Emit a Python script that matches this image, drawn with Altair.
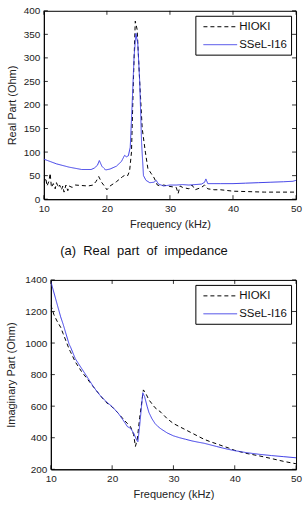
import altair as alt
import pandas as pd

# ---- Real part data (kHz, Ohm) ----
real_hioki_f = [10, 10.3, 10.5, 10.8, 11, 11.2, 11.5, 11.8, 12, 12.3, 12.5, 12.8, 13, 13.2, 13.5, 13.8, 14, 14.5, 15, 16, 17,
                17.8, 18.3, 18.7, 19.2, 19.6, 20, 20.5, 21.5, 22.5, 23, 23.3, 23.6, 23.9, 24.2, 24.5, 24.8, 25.2, 25.6, 25.8,
                26.1, 26.5, 27, 27.5, 28, 28.5, 29, 30, 31, 31.3, 31.6, 32, 33, 33.5, 34, 35, 35.5, 36, 37, 38, 40, 45, 50]
real_hioki_v = [35, 45, 28, 38, 55, 25, 33, 22, 35, 25, 30, 20, 28, 15, 30, 18, 28, 25, 30, 29, 28,
                30, 38, 48, 35, 28, 20, 28, 37, 48, 52, 50, 60, 100, 250, 378, 360, 250, 150, 130,
                100, 65, 55, 45, 30, 28, 30, 27, 25, 12, 28, 25, 22, 30, 20, 25, 30, 22, 20, 20, 17, 15, 15]
real_ssel_f = [10, 12, 14, 16, 17.5, 18, 18.5, 18.8, 19.2, 19.8, 20.5, 21.5, 22.3, 22.8, 23.1, 23.4, 23.7, 24.0, 24.3, 24.6,
               24.9, 25.2, 25.5, 25.8, 26.2, 26.8, 27.5, 27.8, 28.2, 29, 30, 31, 32, 33, 34, 35, 35.5, 35.7, 36, 38, 40,
               42, 44, 46, 48, 49.5, 50]
real_ssel_v = [85, 75, 68, 63, 63, 66, 72, 82, 70, 62, 64, 70, 80, 93, 90, 92, 110, 200, 300, 352,
               330, 250, 120, 50, 40, 35, 36, 40, 32, 28, 30, 30, 31, 30, 31, 32, 36, 43, 33, 33, 33,
               34, 35, 36, 37, 38, 40]

# ---- Imaginary part data (kHz, Ohm) ----
imag_hioki_f = [10, 10.5, 11, 11.6, 12, 13, 13.2, 14, 15, 15.9, 17, 18, 19, 20, 21, 22, 22.5, 23, 23.5, 23.8, 24.1, 24.5,
                25.1, 25.5, 26, 27, 28, 29, 30, 31, 32, 33, 34, 35, 36, 37, 38, 39, 40, 42, 44, 46, 48, 50]
imag_hioki_v = [1240, 1180, 1140, 1100, 1060, 960, 945, 880, 820, 775, 720, 670, 625, 595, 555, 510, 490, 470, 420, 345, 390, 530,
                703, 680, 640, 590, 560, 520, 490, 470, 450, 430, 410, 390, 375, 362, 348, 335, 320, 300, 285, 268, 250, 235]
imag_ssel_f = [10, 11, 11.6, 12, 13, 13.2, 14, 15, 15.9, 17, 18, 19, 20, 21, 22, 22.5, 23, 23.5, 24, 24.2, 24.5, 25, 25.3,
               25.7, 26, 26.5, 27, 27.5, 28, 29, 30, 31, 32, 33, 34, 35, 36, 37, 38, 39, 40, 42, 44, 46, 48, 50]
imag_ssel_v = [1390, 1250, 1166, 1120, 990, 976, 900, 840, 787, 720, 670, 630, 597, 555, 500, 470, 460, 430, 385, 375, 480, 685, 660,
               600, 560, 520, 490, 470, 455, 430, 412, 400, 390, 380, 372, 365, 355, 345, 335, 326, 318, 305, 295, 287, 280, 273]

series_names = ["HIOKI", "SSeL-I16"]
x_ticks = [10, 20, 30, 40, 50]
real_ticks = [0, 50, 100, 150, 200, 250, 300, 350, 400]
imag_ticks = [200, 400, 600, 800, 1000, 1200, 1400]

BLUE = "#3c3ce6"
FONT = "Liberation Sans"


def frame(f1, v1, f2, v2):
    return pd.concat([
        pd.DataFrame({"f": f1, "v": v1, "series": series_names[0]}),
        pd.DataFrame({"f": f2, "v": v2, "series": series_names[1]}),
    ])


def spacer():
    return alt.Chart(pd.DataFrame({"a": [0]})).mark_point(opacity=0, size=0).encode(
        x=alt.value(0), y=alt.value(0)
    ).properties(width=1, height=1, view=alt.ViewBackground(stroke="transparent", strokeWidth=0))


def panel(df, ytitle, ydom, yticks, W, H, ytpad, caption=None):
    xs = alt.Scale(domain=[10, 50], nice=False, zero=False)
    ys = alt.Scale(domain=ydom, nice=False, zero=False)
    xax = alt.Axis(values=x_ticks, tickCount=30, title="Frequency (kHz)", tickSize=0,
                   labelPadding=4, titlePadding=5, grid=False, format="d",
                   labelOverlap=False, labelFlush=False, labelBound=False)
    yax = alt.Axis(values=yticks, tickCount=30, title=ytitle, tickSize=0, format="d",
                   labelPadding=4, titlePadding=ytpad, grid=False,
                   labelOverlap=False, labelFlush=False, labelBound=False)
    lines = alt.Chart(df).mark_line(strokeWidth=1, clip=True).encode(
        x=alt.X("f:Q", scale=xs, axis=xax),
        y=alt.Y("v:Q", scale=ys, axis=yax),
        color=alt.Color("series:N", scale=alt.Scale(domain=series_names, range=["black", BLUE]),
                        legend=alt.Legend(title=None, orient="top-right", offset=5,
                                          symbolType="M-2.6,0H2.6", symbolSize=169, symbolStrokeWidth=1,
                                          symbolOffset=14,
                                          labelFontSize=11.5, labelFont=FONT, labelColor="#111",
                                          labelOffset=12, padding=4, rowPadding=5, labelLimit=200,
                                          strokeColor="black", fillColor="white")),
        strokeDash=alt.StrokeDash("series:N", scale=alt.Scale(domain=series_names, range=[[4, 3], [1, 0]]),
                                  legend=alt.Legend(title=None)),
    )
    xt = pd.DataFrame({"t": x_ticks})
    yt = pd.DataFrame({"t": yticks})
    tb = alt.Chart(xt).mark_rule(color="black", strokeWidth=0.8).encode(
        x=alt.X("t:Q", scale=xs, axis=xax), y=alt.value(H), y2=alt.value(H - 4))
    tt = alt.Chart(xt).mark_rule(color="black", strokeWidth=0.8).encode(
        x=alt.X("t:Q", scale=xs, axis=xax), y=alt.value(0), y2=alt.value(4))
    tl = alt.Chart(yt).mark_rule(color="black", strokeWidth=0.8).encode(
        y=alt.Y("t:Q", scale=ys, axis=yax), x=alt.value(0), x2=alt.value(4))
    tr = alt.Chart(yt).mark_rule(color="black", strokeWidth=0.8).encode(
        y=alt.Y("t:Q", scale=ys, axis=yax), x=alt.value(W), x2=alt.value(W - 4))
    props = dict(width=W, height=H)
    if caption:
        props["title"] = alt.TitleParams(caption, orient="bottom", anchor="middle", fontSize=13,
                                         font=FONT, fontWeight="normal", color="#111", offset=16, dx=-26)
    layered = alt.layer(lines, tb, tt, tl, tr).properties(**props)
    return alt.hconcat(spacer(), layered, spacing=0).resolve_scale(
        color="independent", strokeDash="independent", x="independent", y="independent"
    ).resolve_legend(color="independent", strokeDash="independent")


top = panel(frame(real_hioki_f, real_hioki_v, real_ssel_f, real_ssel_v),
            "Real Part (Ohm)", [0, 400], real_ticks, 253, 189, 6,
            caption="(a)\u00a0 Real\u00a0 part\u00a0 of\u00a0 impedance")
bottom = panel(frame(imag_hioki_f, imag_hioki_v, imag_ssel_f, imag_ssel_v),
               "Imaginary Part (Ohm)", [200, 1400], imag_ticks, 246, 190, 8)

chart = alt.vconcat(top, bottom, spacing=15).properties(
    padding={"left": 4, "top": 4, "right": 5, "bottom": 5}
).resolve_scale(color="independent", strokeDash="independent", x="independent", y="independent"
).resolve_legend(color="independent", strokeDash="independent").configure_view(
    stroke="black", strokeWidth=1
).configure_axis(
    labelFont=FONT, titleFont=FONT, labelFontSize=10, titleFontSize=11, titleFontWeight="normal",
    labelColor="#222", titleColor="#222", domainColor="black", domainWidth=1
)

chart.save("out.html", embed_options={"renderer": "svg", "actions": False})
